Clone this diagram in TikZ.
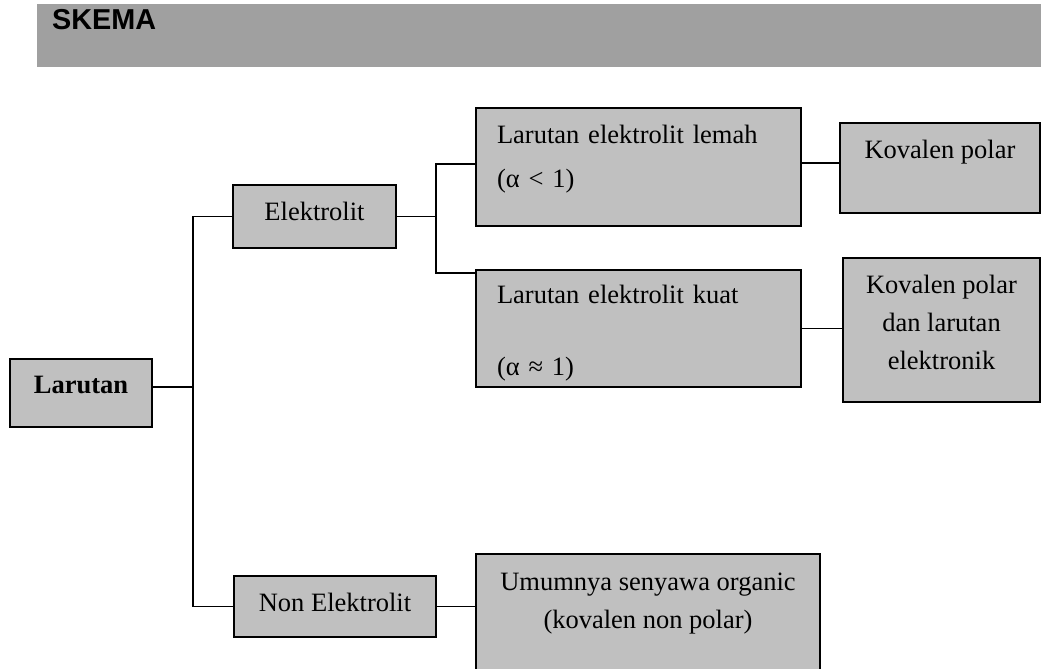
\documentclass[tikz,border=0pt]{standalone}
\usepackage{fontspec}
\setmainfont{Liberation Serif}
\newfontfamily\headfont{Liberation Sans}
\usepackage{tikz}
\usetikzlibrary{positioning, calc}
\definecolor{headgray}{HTML}{A0A0A0}
\definecolor{boxgray}{HTML}{C0C0C0}

\begin{document}
\begin{tikzpicture}[x=1pt, y=-1pt,
  box/.style={rectangle, draw=black, fill=boxgray, line width=1.9pt, inner sep=0pt, font=\fontsize{26.5}{38}\selectfont, align=center, text height=18pt},
  leftbox/.style={box, align=left, text width=283pt, inner xsep=21pt},
  link/.style={line width=1.7pt}
]
  \useasboundingbox (0,0) rectangle (1041,669);
  \fill[headgray] (37,4) rectangle (1041,67);
  \node[anchor=base west, inner sep=0pt, font=\headfont\bfseries\fontsize{28.8}{34}\selectfont] (skema) at (52,30) {SKEMA};

  \node[box, minimum width=142pt, minimum height=68pt, text depth=18pt] (larutan) at (81,393) {\textbf{Larutan}};
  \node[box, minimum width=163pt, minimum height=63pt, text depth=11pt] (elektrolit) at (314.5,216.5) {Elektrolit};
  \node[box, minimum width=202pt, minimum height=61pt, text depth=9pt] (nonel) at (335,606.5) {Non Elektrolit};

  \node[leftbox, minimum width=325pt, minimum height=118pt, text depth=66pt] (lemah) at (638.5,167) {Larutan elektrolit lemah\\[6pt](α < 1)};
  \node[leftbox, minimum width=325pt, minimum height=117pt, text depth=69pt] (kuat) at (638.5,328.5) {Larutan elektrolit kuat\\[34pt](α ≈ 1)};
  \node[box, minimum width=200pt, minimum height=90pt, text depth=38pt] (kovpol) at (940,168) {Kovalen polar};
  \node[box, minimum width=197pt, minimum height=144pt, text height=78pt, text depth=0pt] (kovdan) at (941.5,330) {Kovalen polar\\dan larutan\\elektronik};
  \node[box, minimum width=344pt, minimum height=146pt, text height=20pt, text depth=18pt] (umum) at (648,627) {Umumnya senyawa organic\\(kovalen non polar)};

  \draw[link] ([yshift=6pt]larutan.east) -- ++(40,0) coordinate (trunk);
  \draw[link] (elektrolit.west) -| (trunk) |- (nonel.west);
  \draw[link] (elektrolit.east) -- ++(39,0) coordinate (fork);
  \draw[link] ([yshift=3pt]lemah.west) -| (fork) |- ([yshift=-4pt]kuat.north west);
  \draw[link] ([yshift=4pt]lemah.east) -- ([yshift=4pt]lemah.east -| kovpol.west);
  \draw[link] (kuat.east) -- (kuat.east -| kovdan.west);
  \draw[link] (nonel.east) -- (nonel.east -| umum.west);
\end{tikzpicture}
\end{document}
